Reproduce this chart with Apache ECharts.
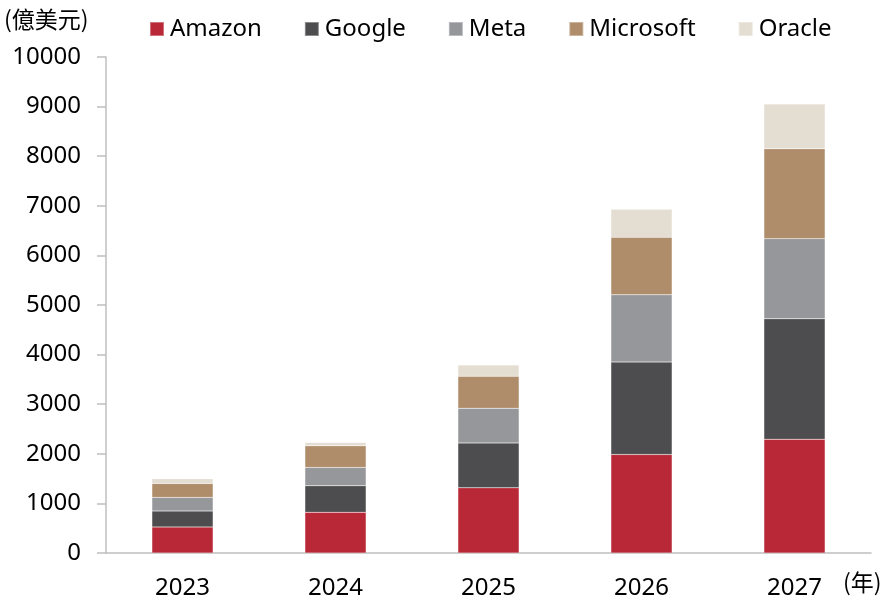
<!DOCTYPE html>
<html>
<head>
<meta charset="utf-8">
<script src="https://cdn.jsdelivr.net/npm/echarts@6/dist/echarts.min.js"></script>
<style>html,body{margin:0;padding:0;background:#fff;}#c{width:883px;height:600px;}</style>
</head>
<body>
<div id="c"></div>
<script>
var years = ['2023', '2024', '2025', '2026', '2027'];
var amazon = [525, 820, 1314, 1986, 2294];
var google = [322, 535, 905, 1863, 2428];
var meta = [274, 370, 699, 1356, 1616];
var microsoft = [281, 435, 643, 1159, 1811];
var oracle = [95, 68, 228, 564, 905];
var seriesNames = ['Amazon', 'Google', 'Meta', 'Microsoft', 'Oracle'];
var colors = ['#B92837', '#4D4D4F', '#96979B', '#AF8D6B', '#E4DDD2'];
var seriesData = [amazon, google, meta, microsoft, oracle];

var font = '"Noto Sans", "Noto Sans CJK TC", sans-serif';
var chart = echarts.init(document.getElementById('c'));
chart.setOption({
  animation: false,
  color: colors,
  grid: { left: 106, right: 12, top: 57, bottom: 46, containLabel: false },
  legend: {
    top: 12, left: 144,
    itemWidth: 14, itemHeight: 14, itemGap: 42,
    icon: 'rect',
    textStyle: { fontSize: 24, color: '#000', fontFamily: font, padding: [0, 0, 0, 1] },
    data: seriesNames
  },
  xAxis: {
    type: 'category',
    data: years,
    axisLine: { lineStyle: { color: '#BFBFBF', width: 1.5 } },
    axisTick: { show: false },
    axisLabel: { fontSize: 24, color: '#000', fontFamily: font, margin: 23 }
  },
  yAxis: {
    type: 'value',
    min: 0, max: 10000, interval: 1000,
    splitLine: { show: false },
    axisLine: { show: true, lineStyle: { color: '#BFBFBF', width: 1.5 } },
    axisTick: { show: true, length: 9, lineStyle: { color: '#BFBFBF', width: 1.5 } },
    axisLabel: { fontSize: 24, color: '#000', fontFamily: font, margin: 25, formatter: function (v) { return String(v); } }
  },
  graphic: [
    { type: 'text', left: 4, top: 8, style: { text: '(億美元)', fontSize: 23, fill: '#000', fontFamily: '"Noto Sans CJK TC", sans-serif' } },
    { type: 'text', left: 843, top: 571, style: { text: '(年)', fontSize: 23, fill: '#000', fontFamily: '"Noto Sans CJK TC", sans-serif' } }
  ],
  series: seriesNames.map(function (n, i) {
    return {
      name: n, type: 'bar', stack: 'total', barWidth: '40%',
      data: seriesData[i],
      itemStyle: { color: colors[i], borderColor: 'rgba(255,255,255,0.35)', borderWidth: 0.5 }
    };
  })
});
</script>
</body>
</html>
